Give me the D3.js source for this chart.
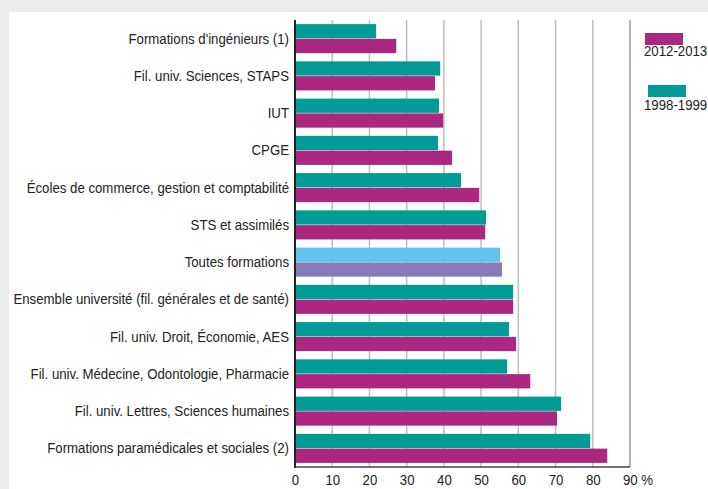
<!DOCTYPE html>
<html><head><meta charset="utf-8">
<script src="https://cdn.jsdelivr.net/npm/d3@7"></script>
<style>body{margin:0;background:#ebebeb;} svg{display:block;font-family:"Liberation Sans",Arial,sans-serif;}</style>
</head><body>
<svg id="c" width="708" height="489"></svg>
<script>
const categories = [
  "Formations d'ingénieurs (1)",
  "Fil. univ. Sciences, STAPS",
  "IUT",
  "CPGE",
  "Écoles de commerce, gestion et comptabilité",
  "STS et assimilés",
  "Toutes formations",
  "Ensemble université (fil. générales et de santé)",
  "Fil. univ. Droit, Économie, AES",
  "Fil. univ. Médecine, Odontologie, Pharmacie",
  "Fil. univ. Lettres, Sciences humaines",
  "Formations paramédicales et sociales (2)"
];
const values1998 = [21.8, 39.0, 38.7, 38.4, 44.6, 51.3, 55.1, 58.6, 57.5, 57.0, 71.5, 79.3];
const values2012 = [27.2, 37.6, 39.8, 42.2, 49.5, 51.1, 55.6, 58.6, 59.4, 63.2, 70.4, 83.9];
const seriesNames = ["1998-1999", "2012-2013"];
const tickValues = [0,10,20,30,40,50,60,70,80,90];
const highlight = "Toutes formations";

const colors = {"1998-1999":"#009b97","2012-2013":"#ab2782"};
const hiColors = {"1998-1999":"#5ec4ec","2012-2013":"#867bb8"};

const svg = d3.select("#c");
svg.append("rect").attr("x",9).attr("y",12).attr("width",699).attr("height",477).attr("fill","#fff");

const x = d3.scaleLinear().domain([0,90]).range([295,630]);
const y = d3.scaleBand().domain(categories).range([20,467]).paddingInner(0.22).paddingOuter(0.11);
const ySub = d3.scaleBand().domain(seriesNames).range([0,y.bandwidth()]).paddingInner(0.035);

// gridlines
svg.append("g").selectAll("line").data(tickValues.filter(d=>d>0)).join("line")
  .attr("x1",d=>x(d)).attr("x2",d=>x(d)).attr("y1",20).attr("y2",467)
  .attr("stroke",d=>d===90?"#999":"#bdbdbd").attr("stroke-width",1.5);

const rows = categories.map((c,i)=>({cat:c, v:{"1998-1999":values1998[i],"2012-2013":values2012[i]}}));
const g = svg.append("g").selectAll("g").data(rows).join("g").attr("transform",d=>`translate(0,${y(d.cat)})`);
g.selectAll("rect").data(d=>seriesNames.map(s=>({s,val:d.v[s],hi:d.cat===highlight}))).join("rect")
  .attr("x",x(0)).attr("y",d=>ySub(d.s)).attr("height",ySub.bandwidth())
  .attr("width",d=>x(d.val)-x(0)).attr("fill",d=>d.hi?hiColors[d.s]:colors[d.s]);

// category labels
svg.append("g").selectAll("text").data(categories).join("text")
  .attr("transform",d=>`translate(289,${y(d)+y.bandwidth()/2+5}) scale(0.945,1)`)
  .attr("text-anchor","end").attr("font-size",14).attr("fill","#222").text(d=>d);

// axes lines
svg.append("line").attr("x1",x(0)).attr("x2",x(0)).attr("y1",20).attr("y2",468).attr("stroke","#222").attr("stroke-width",2);
svg.append("line").attr("x1",x(0)).attr("x2",x(90)).attr("y1",467).attr("y2",467).attr("stroke","#444").attr("stroke-width",1.5);

const ax = svg.append("g").attr("transform","translate(0,467)")
  .call(d3.axisBottom(x).tickValues(tickValues).tickSize(0).tickPadding(6).tickFormat(d=>d===90?"90 %":d));
ax.select(".domain").remove();
ax.selectAll("text").attr("font-size",14).attr("fill","#222").attr("font-family","Liberation Sans, Arial, sans-serif")
  .attr("transform","scale(0.945,1)").attr("dy","0.85em");
ax.selectAll(".tick").filter(d=>d===90).select("text").attr("text-anchor","start").attr("x",-8);

// legend
const leg = [{s:"2012-2013",ry:33,rx:645,ty:56},{s:"1998-1999",ry:85,rx:648,ty:110}];
const lg = svg.append("g").selectAll("g").data(leg).join("g");
lg.append("rect").attr("x",d=>d.rx).attr("y",d=>d.ry).attr("width",38).attr("height",12).attr("fill",d=>colors[d.s]);
lg.append("text").attr("transform",d=>`translate(644,${d.ty}) scale(0.945,1)`).attr("font-size",14).attr("fill","#222").text(d=>d.s);
</script>
</body></html>
